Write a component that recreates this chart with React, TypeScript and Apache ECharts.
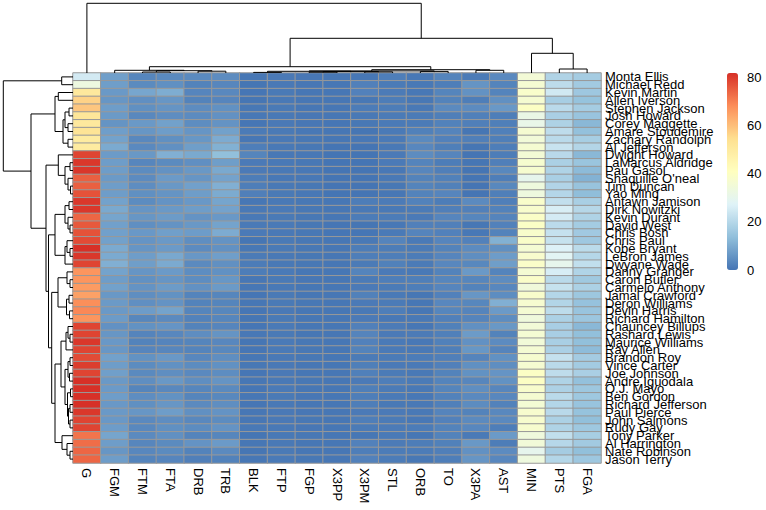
import React, { useEffect, useRef } from 'react';
import * as echarts from 'echarts';

const rowNames = ['Monta Ellis','Michael Redd','Kevin Martin','Allen Iverson','Stephen Jackson','Josh Howard','Corey Maggette','Amare Stoudemire','Zachary Randolph','Al Jefferson','Dwight Howard','LaMarcus Aldridge','Pau Gasol',"Shaquille O'neal",'Tim Duncan','Yao Ming','Antawn Jamison','Dirk Nowitzki','Kevin Durant','David West','Chris Bosh','Chris Paul','Kobe Bryant','LeBron James','Dwyane Wade','Danny Granger','Caron Butler','Carmelo Anthony','Jamal Crawford','Deron Williams','Devin Harris','Richard Hamilton','Chauncey Billups','Rashard Lewis','Maurice Williams','Ray Allen','Brandon Roy','Vince Carter','Joe Johnson','Andre Iguodala','O.J. Mayo','Ben Gordon','Richard Jefferson','Paul Pierce','John Salmons','Rudy Gay','Tony Parker','Al Harrington','Nate Robinson','Jason Terry'];

const colNames = ['G','FGM','FTM','FTA','DRB','TRB','BLK','FTP','FGP','X3PP','X3PM','STL','ORB','TO','X3PA','AST','MIN','PTS','FGA'];

const G = [25,33,51,57,59,52,51,53,50,50, 79,81,81,75,75,77,81,81,74,76, 77,78,82,81,79,67,67,66,65,68, 69,67,79,79,81,79,78,80,79,82, 82,82,82,81,79,79,72,73,74,74];
const MIN = [35.6,36.4,38.2,36.7,39.7,31.9,31.1,36.8,35.1,36.6, 35.7,37.1,37.1,30.1,33.7,33.6,38.2,37.7,39.0,39.3, 38.1,38.5,36.2,37.7,38.6,36.2,38.6,34.5,38.1,36.9, 36.1,34.0,35.3,36.2,35.0,36.3,37.2,36.8,39.5,39.8, 38.0,36.6,35.9,37.5,37.5,37.3,34.1,34.9,29.9,33.6];
const PTS = [19.0,21.2,24.6,17.5,20.7,18.0,18.6,21.4,20.8,23.1, 20.6,18.1,18.9,17.8,19.3,19.7,22.2,25.9,25.3,21.0, 22.7,22.8,26.8,28.4,30.2,25.8,20.8,22.8,19.7,19.4, 21.3,18.3,17.7,17.7,17.8,18.2,22.6,20.8,21.4,18.8, 18.5,20.7,19.6,20.5,18.3,18.9,22.0,20.1,17.2,19.6];
const FGM = [7.8,7.5,6.7,6.1,7.3,6.8,5.7,7.6,8.3,9.7, 7.1,7.4,7.3,6.8,7.4,7.4,8.3,9.6,8.9,8.0, 8.0,8.1,9.8,9.7,10.8,8.5,7.3,8.1,6.4,6.8, 6.6,7.0,5.2,6.1,6.5,6.3,8.1,7.4,7.8,6.6, 6.9,7.3,6.5,6.7,6.5,7.2,8.9,7.3,6.1,7.3];
const FGA = [17.2,16.6,15.9,14.6,17.2,15.1,12.4,14.1,17.5,19.5, 12.4,15.3,12.9,11.2,14.8,13.4,17.8,20.0,18.8,17.0, 16.4,16.1,20.9,19.9,22.0,19.1,16.2,18.3,15.7,14.5, 15.1,15.6,12.4,13.8,13.9,13.2,16.9,16.8,18.0,14.1, 15.7,16.0,14.9,14.6,13.8,16.0,17.5,16.6,13.9,15.8];
const FGP = [0.451,0.455,0.42,0.417,0.422,0.451,0.461,0.539,0.475,0.497, 0.572,0.484,0.567,0.609,0.504,0.548,0.468,0.479,0.476,0.472, 0.487,0.503,0.467,0.489,0.491,0.447,0.453,0.443,0.41,0.471, 0.438,0.447,0.418,0.439,0.467,0.48,0.48,0.437,0.437,0.473, 0.438,0.455,0.439,0.457,0.472,0.453,0.506,0.439,0.437,0.463];
const FTM = [3.1,4.0,9.0,4.8,4.9,3.6,6.7,6.1,3.6,3.7, 6.4,3.2,4.2,4.1,4.5,4.9,4.2,6.0,6.1,4.8, 6.5,5.8,5.9,7.3,7.5,6.0,5.1,5.6,4.6,4.8, 7.2,3.3,5.3,2.8,2.6,3.0,5.3,4.2,3.8,4.6, 2.9,4.5,4.9,6.1,3.7,3.6,3.9,3.2,3.4,2.7];
const FTA = [3.8,4.9,10.3,6.1,5.7,4.5,8.1,7.3,4.9,5.0, 10.8,4.0,5.4,6.9,6.4,5.7,5.6,6.7,7.1,5.5, 7.7,6.7,6.9,9.4,9.8,6.9,6.0,7.1,5.3,5.6, 8.5,3.9,5.8,3.4,2.8,3.2,6.5,5.1,4.6,6.4, 3.6,5.3,6.1,7.3,4.5,4.9,5.0,4.0,4.0,3.0];
const FTP = [0.83,0.814,0.867,0.786,0.852,0.808,0.824,0.835,0.734,0.738, 0.594,0.781,0.781,0.595,0.692,0.866,0.754,0.89,0.863,0.884, 0.817,0.868,0.856,0.78,0.765,0.878,0.858,0.793,0.872,0.849, 0.82,0.848,0.913,0.836,0.912,0.952,0.824,0.817,0.826,0.724, 0.879,0.86,0.805,0.83,0.827,0.739,0.782,0.793,0.841,0.88];
const X3PM = [0.3,2.1,2.3,0.5,1.3,0.7,0.5,0.1,0.6,0, 0,0,0,0,0,0,1.4,0.8,1.3,0.1, 0.2,0.8,1.4,1.6,1.1,2.7,1.1,1.0,2.2,1.0, 0.8,1.0,2.1,2.8,2.3,2.5,1.1,1.8,2.0,1.0, 1.8,1.6,1.7,1.0,1.6,1.1,0.3,2.3,1.7,2.3];
const X3PA = [1.1,5.7,5.4,1.7,4.1,2.0,1.9,0.1,1.9,0.1, 0,0.1,0,0,0,0,3.9,2.1,3.1,0.3, 0.6,2.3,4.1,4.7,3.5,6.7,3.1,2.6,6.1,3.3, 2.8,2.8,5.0,7.0,5.2,6.2,2.8,4.9,5.3,3.2, 4.6,3.7,4.2,2.5,3.9,3.4,0.9,6.4,5.2,6.0];
const X3PP = [0.308,0.366,0.415,0.283,0.338,0.345,0.253,0.429,0.315,0, 0,0,0,0,0,0,0.351,0.359,0.422,0.24, 0.245,0.364,0.351,0.344,0.317,0.404,0.31,0.371,0.36,0.31, 0.291,0.368,0.408,0.397,0.436,0.409,0.377,0.385,0.36,0.307, 0.384,0.41,0.397,0.391,0.417,0.327,0.292,0.364,0.325,0.366];
const ORB = [0.6,0.7,0.6,0.5,0.8,1.1,1.1,2.2,3.8,3.4, 4.3,2.7,3.2,2.5,2.7,2.6,2.4,1.1,1.0,2.1, 2.8,0.9,1.1,1.3,1.1,0.7,1.8,1.6,0.4,0.4, 0.4,0.7,0.4,1.2,0.6,0.8,1.3,0.9,0.7,1.1, 0.7,0.6,0.7,0.7,0.6,1.3,0.4,1.4,1.3,0.5];
const DRB = [3.8,2.5,3.0,2.5,4.3,4.1,4.4,5.9,6.2,7.5, 9.6,4.8,6.4,5.9,8.0,7.3,6.5,7.3,5.5,6.4, 7.2,4.7,4.1,6.3,3.9,4.4,4.4,5.2,2.7,2.5, 2.9,2.4,2.6,4.5,2.9,2.7,3.4,4.2,3.7,4.7, 3.1,2.9,3.9,5.0,3.6,4.2,2.7,5.5,2.6,1.9];
const TRB = [4.3,3.2,3.6,3.0,5.1,5.2,5.5,8.1,10.0,11.0, 13.8,7.5,9.6,8.4,10.7,9.9,8.9,8.4,6.5,8.5, 10.0,5.5,5.2,7.6,5.0,5.1,6.2,6.8,3.1,2.9, 3.3,3.1,3.0,5.7,3.4,3.5,4.7,5.1,4.4,5.7, 3.8,3.5,4.6,5.6,4.2,5.5,3.1,6.9,3.9,2.4];
const AST = [3.7,2.7,2.7,5.0,6.5,1.6,1.8,2.0,1.8,1.6, 1.4,1.9,3.5,1.7,3.5,1.8,1.9,2.4,2.8,2.3, 2.5,11.0,4.9,7.2,7.5,2.7,4.3,3.4,4.4,10.7, 6.9,4.4,6.4,2.6,4.1,2.8,5.1,4.7,5.8,5.3, 3.2,3.4,2.4,3.6,3.7,1.7,6.9,1.4,4.1,3.4];
const STL = [1.6,1.1,1.2,1.5,1.5,1.1,0.9,0.9,0.9,0.8, 1.0,1.0,0.6,0.7,0.5,0.4,1.2,0.8,1.3,0.6, 0.9,2.8,1.5,1.7,2.2,1.0,1.6,1.1,0.9,1.1, 1.7,0.6,1.2,1.0,0.9,0.9,1.1,1.0,1.1,1.6, 1.1,0.9,0.8,1.0,1.1,1.2,0.9,1.2,1.3,1.3];
const BLK = [0.3,0.1,0.2,0.1,0.5,0.6,0.2,1.1,0.3,1.7, 2.9,1.0,1.0,1.4,1.7,1.9,0.3,0.8,0.7,0.9, 1.0,0.1,0.5,1.1,1.3,1.4,0.3,0.4,0.2,0.3, 0.2,0.1,0.2,0.6,0.1,0.2,0.3,0.5,0.2,0.4, 0.2,0.3,0.2,0.3,0.3,0.7,0.1,0.3,0.1,0.3];
const TO = [2.7,1.6,2.9,2.6,3.9,1.8,2.4,2.8,2.3,1.8, 3.0,1.5,1.9,2.2,2.2,3.0,1.5,1.9,3.0,2.1, 2.3,3.0,2.6,3.0,3.4,2.5,3.1,3.0,2.3,3.4, 3.1,2.1,2.2,2.0,2.2,1.8,1.9,2.1,2.5,2.7, 2.9,2.4,2.0,2.8,2.3,2.6,2.6,2.2,1.9,1.6];

// columns in displayed order
const columns = [G, FGM, FTM, FTA, DRB, TRB, BLK, FTP, FGP, X3PP, X3PM, STL, ORB, TO, X3PA, AST, MIN, PTS, FGA];

// Dendrograms: [left, right, mergeHeight]; leaves are display indices
const colTree: any = [
  0,
  [
    [
      [1, [[2, 3, 1.0], [4, 5, 1.8], 2.3], 2.7],
      [
        [[[6, 7, 0.6], [[8, 9, 0.8], [10, 11, 1.1], 1.4], 1.7], [12, 13, 1.6], 2.1],
        [14, 15, 2.7],
        3.3,
      ],
      6.3,
    ],
    [16, [17, 18, 4.0], 19.7],
    34.7,
  ],
  69.7,
];

const rowB1: any = [10, [[11, 12, 3], [13, [14, 15, 2.5], 5], 8], 14.7];
const rowB2: any = [[[16, 17, 4], [18, [19, 20, 3], 5], 8], [[21, [22, 23, 3], 6], 24, 8], 18];
const rowC1: any = [[25, [26, 27, 3], 6], [[28, 29, 4], [30, 31, 3.5], 6.5], 15];
const rowC2a: any = [
  [[32, [33, 34, 3], 5], 35, 7],
  [[[36, 37, 3], [38, 39, 3.5], 5], [[40, 41, 2.5], [[42, 43, 3], [44, 45, 3], 4.5], 5.5], 8],
  12,
];
const rowC2b: any = [46, [47, [48, 49, 3], 6], 11];
const rowTree: any = [
  [0, 1, 11.3],
  [
    [[2, 3, 14.7], [[[4, 5, 4], [6, 7, 5], 8], [8, 9, 5], 10], 18],
    [rowB1, [rowB2, [rowC1, [rowC2a, rowC2b, 18], 21.3], 24.5], 27],
    42,
  ],
  69.7,
];

const legendTicks = [0, 20, 40, 60, 80];
const palette = ['#4575B4', '#91BFDB', '#E0F3F8', '#FFFFBF', '#FEE090', '#FC8D59', '#D73027'];

function segments(tree: any, out: number[][]): { pos: number; h: number } {
  if (typeof tree === 'number') return { pos: tree, h: 0 };
  const a = segments(tree[0], out);
  const b = segments(tree[1], out);
  const h = tree[2];
  out.push([a.pos, a.h, b.pos, b.h, h]);
  return { pos: (a.pos + b.pos) / 2, h };
}

const FONT = 'Liberation Sans, Arial, sans-serif';

export default function App() {
  const ref = useRef<HTMLDivElement>(null);
  useEffect(() => {
    if (!ref.current) return;
    const chart = echarts.init(ref.current, null, { renderer: 'svg' });
    const heat: number[][] = [];
    columns.forEach((col, ci) => col.forEach((v, ri) => heat.push([ci, ri, v])));
    const colSegs: number[][] = [];
    segments(colTree, colSegs);
    const rowSegs: number[][] = [];
    segments(rowTree, rowSegs);
    const maxVal = Math.max(...heat.map((d) => d[2]));
    const lineStyle = { stroke: '#000', lineWidth: 1, fill: null };

    chart.setOption({
      animation: false,
      grid: [
        { left: 73, top: 73, width: 528, height: 390 },
        { left: 73, top: 3, width: 528, height: 70 },
        { left: 3, top: 73, width: 70, height: 390 },
        { left: 727, top: 73, width: 11, height: 197 },
      ],
      xAxis: [
        {
          gridIndex: 0, type: 'category', data: colNames, position: 'bottom',
          axisLine: { show: false }, axisTick: { show: false }, splitLine: { show: false },
          axisLabel: { rotate: -90, interval: 0, margin: 5, fontSize: 13, color: '#000', fontFamily: FONT },
        },
        { gridIndex: 1, type: 'value', min: -0.5, max: 18.5, show: false },
        { gridIndex: 2, type: 'value', min: 0, max: 70, inverse: true, show: false },
        { gridIndex: 3, type: 'value', show: false },
      ],
      yAxis: [
        {
          gridIndex: 0, type: 'category', data: rowNames, inverse: true, position: 'right',
          axisLine: { show: false }, axisTick: { show: false }, splitLine: { show: false },
          axisLabel: { interval: 0, margin: 4, fontSize: 13, color: '#000', fontFamily: FONT, padding: [3, 0, 0, 0] },
        },
        { gridIndex: 1, type: 'value', min: 0, max: 70, show: false },
        { gridIndex: 2, type: 'value', min: -0.5, max: 49.5, inverse: true, show: false },
        {
          gridIndex: 3, type: 'value', min: 0, max: maxVal, interval: 20, position: 'right',
          axisLine: { show: false }, axisTick: { show: false }, splitLine: { show: false },
          axisLabel: {
            margin: 9, fontSize: 13, color: '#000', fontFamily: FONT,
            formatter: (v: number) => (legendTicks.includes(v) ? String(v) : ''),
          },
        },
      ],
      visualMap: {
        type: 'continuous', min: 0, max: maxVal, seriesIndex: 0, dimension: 2,
        orient: 'vertical', left: 727, top: 73, itemWidth: 11, itemHeight: 197,
        padding: 0, calculable: false, hoverLink: false, text: null,
        inRange: { color: palette },
      },
      series: [
        {
          type: 'heatmap', xAxisIndex: 0, yAxisIndex: 0, data: heat,
          itemStyle: { borderColor: '#999999', borderWidth: 1 },
          emphasis: { disabled: true },
        },
        {
          type: 'custom', xAxisIndex: 1, yAxisIndex: 1, data: colSegs, silent: true,
          renderItem: (params: any, api: any) => {
            const p1 = api.value(0), h1 = api.value(1), p2 = api.value(2), h2 = api.value(3), h = api.value(4);
            return {
              type: 'polyline',
              shape: { points: [api.coord([p1, h1]), api.coord([p1, h]), api.coord([p2, h]), api.coord([p2, h2])] },
              style: lineStyle,
            };
          },
        },
        {
          type: 'custom', xAxisIndex: 2, yAxisIndex: 2, data: rowSegs, silent: true,
          renderItem: (params: any, api: any) => {
            const p1 = api.value(0), h1 = api.value(1), p2 = api.value(2), h2 = api.value(3), h = api.value(4);
            return {
              type: 'polyline',
              shape: { points: [api.coord([h1, p1]), api.coord([h, p1]), api.coord([h, p2]), api.coord([h2, p2])] },
              style: lineStyle,
            };
          },
        },
      ],
    });
    return () => chart.dispose();
  }, []);
  return <div ref={ref} style={{ position: 'fixed', left: 0, top: 0, width: 766, height: 510, background: '#fff' }} />;
}
